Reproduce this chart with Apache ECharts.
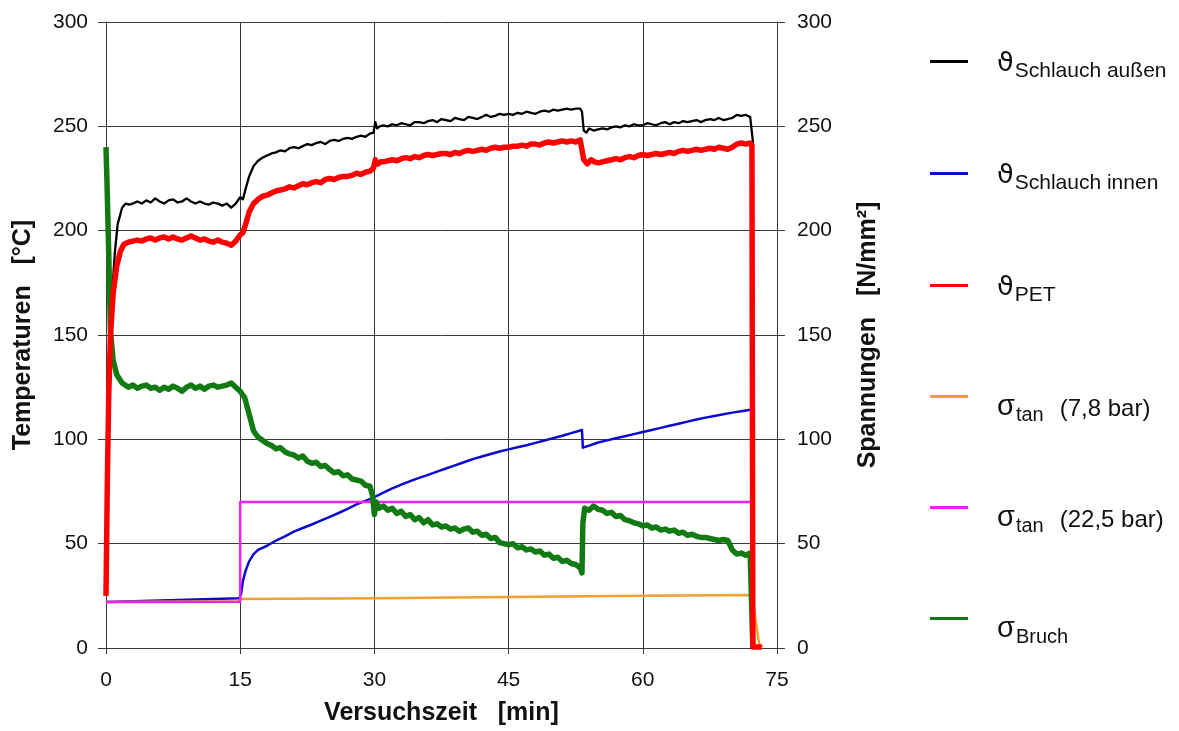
<!DOCTYPE html>
<html>
<head>
<meta charset="utf-8">
<script src="https://cdn.jsdelivr.net/npm/echarts@6/dist/echarts.min.js"></script>
<style>
html,body{margin:0;padding:0;background:#fff;}
#chart{width:1179px;height:731px;}
</style>
</head>
<body>
<div id="chart"></div>
<script>
// ---- Data: [time in min, value] ----
const schlauchAussen = [[0,25],[0.3,110],[0.6,165],[1,190],[1.3,203],[1.8,211],[2.2,213],[2.6,212.5],[3,213],[3.5,214],[4,213],[4.5,214.5],[5,213.5],[5.5,215.5],[6,214],[6.5,213],[7,214.5],[7.5,215],[8,213.5],[8.5,214],[9,215.5],[9.5,214],[10,213],[10.5,214],[11,213],[11.5,212.5],[12,213.5],[12.5,213],[13,212],[13.5,213],[14,211],[14.5,213],[15,216],[15.3,215],[15.6,220],[16,226],[16.5,231],[17,233.5],[17.5,235],[18,236],[18.5,237],[19,237.5],[19.5,238.5],[20,238],[20.5,239.5],[21,240],[21.5,239.5],[22,240.5],[22.5,241.5],[23,241],[23.5,242],[24,242.5],[24.5,241.5],[25,243],[25.5,243.5],[26,243],[26.5,244],[27,244.5],[27.5,244],[28,245],[28.5,245.5],[29,245],[29.5,246.5],[29.9,247],[30.1,252],[30.3,249],[30.6,250],[31,250.5],[31.5,250],[32,251],[32.5,250.5],[33,251.5],[33.5,251],[34,250.5],[34.5,252],[35,252],[35.5,251.5],[36,252.5],[36.5,253],[37,252],[37.5,253.5],[38,253],[38.5,252.5],[39,254],[39.5,253.5],[40,253],[40.5,254.5],[41,254],[41.5,253.5],[42,254.5],[42.5,255.5],[43,254.5],[43.5,255],[44,256],[44.5,255.5],[45,256],[45.5,255.5],[46,256.5],[46.5,256],[47,257],[47.5,256.5],[48,256],[48.5,257],[49,257.5],[49.5,257],[50,258],[50.5,257.5],[51,258],[51.5,258.5],[52,258],[52.5,258.5],[53,258.5],[53.2,257],[53.4,248],[53.7,247],[54,249],[54.5,248],[55,248.5],[55.5,249],[56,248.5],[56.5,249.5],[57,250],[57.5,249.5],[58,250.5],[58.5,250],[59,251],[59.5,250.5],[60,250.5],[60.5,251.5],[61,251],[61.5,250.5],[62,251.5],[62.5,252],[63,251],[63.5,252],[64,251.5],[64.5,252.5],[65,252],[65.5,252.5],[66,253],[66.5,252],[67,253],[67.5,253.5],[68,253],[68.5,254],[69,253],[69.5,253.5],[70,254],[70.5,255.5],[71,255],[71.5,255.5],[72,254.5],[72.2,254],[72.3,243],[72.35,0]];

const schlauchInnen = [[0,22],[5,22.6],[10,23.2],[14.9,23.8],[15.1,26],[15.3,32],[15.6,37],[16,41.5],[16.5,45],[17,47],[18,49],[19,51.5],[20,53.5],[21,55.8],[22,57.5],[23,59.2],[24,61],[25,62.8],[26,64.7],[27,66.7],[28,68.8],[29,70.5],[30,72.3],[31,74.5],[32,76.5],[33,78.3],[34,80],[35,81.5],[36,83],[37,84.5],[38,86],[39,87.5],[40,89],[41,90.5],[42,91.8],[43,93],[44,94.2],[45,95.2],[46,96.2],[47,97.2],[48,98.3],[49,99.4],[50,100.6],[51,101.7],[52,103],[53.2,104.5],[53.3,96],[54,97],[55,98.5],[56,99.5],[57,100.5],[58,101.5],[59,102.5],[60,103.5],[61,104.5],[62,105.5],[63,106.5],[64,107.5],[65,108.5],[66,109.5],[67,110.4],[68,111.2],[69,112],[70,112.8],[71,113.5],[72.2,114.3],[72.3,0]];

const pet = [[0,25],[0.15,80],[0.3,120],[0.5,150],[0.8,170],[1.2,183],[1.6,190],[2,193.5],[2.5,194.5],[3,195],[3.5,195.5],[4,195],[4.5,196],[5,196.5],[5.5,195.5],[6,196.5],[6.5,197],[7,196],[7.5,197],[8,196],[8.5,195.5],[9,196.5],[9.5,197.5],[10,196.5],[10.5,195.5],[11,196],[11.5,195],[12,194.5],[12.5,195.5],[13,194.5],[13.5,194],[14,193],[14.5,195],[15,198],[15.3,199],[15.6,203],[16,209],[16.5,213],[17,215],[17.5,216.5],[18,217],[18.5,218],[19,219],[19.5,219.5],[20,220],[20.5,221],[21,220.5],[21.5,221.5],[22,222.5],[22.5,222],[23,223],[23.5,223.5],[24,223],[24.5,224.5],[25,225],[25.5,224.5],[26,225.5],[26.5,226],[27,226],[27.5,226.5],[28,227.5],[28.5,227],[29,228],[29.5,228.5],[29.9,230],[30.1,234],[30.4,232],[30.7,233],[31,233],[31.5,233.5],[32,234],[32.5,233.5],[33,234.5],[33.5,235],[34,234.5],[34.5,235.5],[35,235],[35.5,236],[36,236.5],[36.5,236],[37,236.5],[37.5,237],[38,237],[38.5,236.5],[39,237.5],[39.5,237],[40,238],[40.5,238.5],[41,238],[41.5,238.5],[42,239],[42.5,238.5],[43,239.5],[43.5,240],[44,239.5],[44.5,240],[45,240],[45.5,240.5],[46,240.5],[46.5,241],[47,240.5],[47.5,241.5],[48,241.5],[48.5,241],[49,242],[49.5,242.5],[50,242],[50.5,242.5],[51,243],[51.5,242.5],[52,243],[52.5,242.5],[53,243.5],[53.2,244],[53.4,234],[53.8,232],[54.2,234],[54.6,233],[55,232.5],[55.5,233],[56,233.5],[56.5,234],[57,234.5],[57.5,234],[58,235],[58.5,235.5],[59,235],[59.5,236],[60,236.5],[60.5,236],[61,236.5],[61.5,237],[62,236.5],[62.5,237],[63,237.5],[63.5,237],[64,238],[64.5,238.5],[65,238],[65.5,238.5],[66,239],[66.5,238.5],[67,239],[67.5,239.5],[68,239],[68.5,240],[69,239.5],[69.5,239],[70,240],[70.5,241.5],[71,242],[71.5,241.5],[72,242],[72.2,241],[72.3,0.5],[73.3,0.5]];

const sigmaTan78 = [[0,22],[14.9,22.4],[15,23.5],[30,23.8],[45,24.4],[60,25],[72.2,25.4],[73,2],[73.4,0.5]];

const sigmaTan225 = [[0,22],[15,22.2],[15,70],[72.2,70],[72.3,0]];

const sigmaBruch = [[0,240],[0.1,225],[0.3,190],[0.5,152],[0.8,138],[1.2,131],[1.8,127],[2.5,125],[3,126],[3.5,124.5],[4,125.5],[4.5,126],[5,124.5],[5.5,125],[6,123.5],[6.5,125],[7,124],[7.5,125.5],[8,124.5],[8.5,123],[9,125],[9.5,126],[10,124.5],[10.5,125.5],[11,124],[11.5,125.5],[12,126],[12.5,125],[13,125.5],[13.5,126],[14,127],[14.5,125],[15,123],[15.5,120],[16,112],[16.5,104],[17,101],[17.5,99.5],[18,98],[18.5,97],[19,95.5],[19.5,96],[20,94],[20.5,93],[21,92.5],[21.5,91],[22,92],[22.5,89.5],[23,88.5],[23.5,89],[24,87],[24.5,87.5],[25,85.5],[25.5,84],[26,84.5],[26.5,82.5],[27,83],[27.5,81],[28,80.5],[28.5,80],[29,78],[29.5,77.5],[29.8,73],[30,64],[30.2,70],[30.5,67],[31,68],[31.5,66],[32,67],[32.5,64.5],[33,65.5],[33.5,63],[34,64],[34.5,61.5],[35,62.5],[35.5,60],[36,61.5],[36.5,59],[37,59.5],[37.5,58],[38,58.5],[38.5,57],[39,57.5],[39.5,56],[40,57],[40.5,57.5],[41,55.5],[41.5,56],[42,54],[42.5,54.5],[43,52.5],[43.5,53],[44,50.5],[44.5,50],[45,49.5],[45.5,50],[46,48],[46.5,48.5],[47,47],[47.5,47.5],[48,46],[48.5,46.5],[49,44.5],[49.5,45],[50,43],[50.5,43.5],[51,41.5],[51.5,42],[52,40.5],[52.5,40],[53,38.5],[53.2,36],[53.3,60],[53.5,67],[54,66],[54.5,68],[55,66.5],[55.5,66],[56,64.5],[56.5,65],[57,63],[57.5,63.5],[58,61.5],[58.5,61],[59,60],[59.5,59.5],[60,58.5],[60.5,59],[61,57.5],[61.5,58],[62,56.5],[62.5,57],[63,56],[63.5,56.5],[64,55],[64.5,55.5],[65,54],[65.5,54.5],[66,53.5],[66.5,53],[67,53],[67.5,52.5],[68,52],[68.5,51.5],[69,52],[69.5,51.5],[70,47],[70.5,45],[71,45.5],[71.5,44.5],[72,45.5],[72.2,45.5],[72.3,0]];

const seriesNames = ['ϑ Schlauch außen','ϑ Schlauch innen','ϑ PET','σ tan (7,8 bar)','σ tan (22,5 bar)','σ Bruch'];
const axisNames = {x:'Versuchszeit   [min]', yLeft:'Temperaturen   [°C]', yRight:'Spannungen   [N/mm²]'};

// ---- Chart ----
const FONT = "'Liberation Sans', Arial, sans-serif";
const legendRich = {
  'ϑ Schlauch außen': '{th|ϑ}{ts|Schlauch außen}',
  'ϑ Schlauch innen': '{th|ϑ}{ts|Schlauch innen}',
  'ϑ PET': '{th|ϑ}{ts|PET}',
  'σ tan (7,8 bar)': '{sg|σ}{ss|tan}{sp|(7,8 bar)}',
  'σ tan (22,5 bar)': '{sg|σ}{ss|tan}{sp|(22,5 bar)}',
  'σ Bruch': '{sg|σ}{ss|Bruch}'
};
const richStyles = {
  th:{fontFamily:"'DejaVu Sans', sans-serif", fontSize:27, color:'#111', padding:[22,0,18,24]},
  ts:{fontFamily:FONT, fontSize:21, color:'#111', padding:[30,0,10,1]},
  sg:{fontFamily:FONT, fontSize:29, color:'#111', padding:[30,0,10,24]},
  ss:{fontFamily:FONT, fontSize:20, color:'#111', padding:[39,0,1,1]},
  sp:{fontFamily:FONT, fontSize:24, color:'#111', padding:[33,0,7,16]}
};
const legendTops = [50, 162, 274, 392, 503, 614];
const axisCol = '#3a3a3a';
const chart = echarts.init(document.getElementById('chart'), null, {renderer:'canvas'});

function mk(name, data, color, width, yIdx){
  return {name, type:'line', data, yAxisIndex:yIdx, showSymbol:false, symbol:'none',
    color, lineStyle:{color, width, join:'round'}, animation:false, emphasis:{disabled:true}};
}

const legends = seriesNames.map((n, i) => ({
  orient:'vertical', left:930, top:legendTops[i], padding:0,
  itemWidth:38, itemHeight:3, icon:'rect', selectedMode:false,
  data:[n], formatter:nm => legendRich[nm],
  textStyle:{fontFamily:FONT, color:'#111', rich:richStyles}
}));

chart.setOption({
  animation:false,
  backgroundColor:'#fff',
  grid:{left:106, right:402, top:22, bottom:79, containLabel:false},
  xAxis:{type:'value', min:0, max:75, interval:15,
    name:axisNames.x, nameLocation:'middle', nameGap:53,
    nameTextStyle:{fontFamily:FONT, fontSize:25, fontWeight:'bold', color:'#111'},
    axisLine:{show:true, onZero:false, lineStyle:{color:axisCol, width:1}},
    axisTick:{show:true, length:6, lineStyle:{color:axisCol}},
    axisLabel:{fontFamily:FONT, fontSize:21, color:'#111', margin:22},
    splitLine:{show:true, lineStyle:{color:axisCol, width:1}}},
  yAxis:[
    {type:'value', min:0, max:300, interval:50, position:'left',
     name:axisNames.yLeft, nameLocation:'middle', nameRotate:90, nameGap:70,
     nameTextStyle:{fontFamily:FONT, fontSize:25, fontWeight:'bold', color:'#111'},
     axisLine:{show:true, lineStyle:{color:axisCol, width:1}},
     axisTick:{show:true, length:8, lineStyle:{color:axisCol}},
     axisLabel:{fontFamily:FONT, fontSize:21, color:'#111', margin:18},
     splitLine:{show:true, lineStyle:{color:axisCol, width:1}}},
    {type:'value', min:0, max:300, interval:50, position:'right',
     name:axisNames.yRight, nameLocation:'middle', nameRotate:90, nameGap:79,
     nameTextStyle:{fontFamily:FONT, fontSize:25, fontWeight:'bold', color:'#111'},
     axisLine:{show:true, lineStyle:{color:axisCol, width:1}},
     axisTick:{show:true, length:8, lineStyle:{color:axisCol}},
     axisLabel:{fontFamily:FONT, fontSize:21, color:'#111', margin:20},
     splitLine:{show:false}}
  ],
  legend:legends,
  series:[
    mk(seriesNames[0], schlauchAussen, '#000000', 2.3, 0),
    mk(seriesNames[1], schlauchInnen, '#0a0ad2', 2.5, 0),
    mk(seriesNames[3], sigmaTan78, '#f2a02e', 2.5, 1),
    mk(seriesNames[4], sigmaTan225, '#f020f0', 2.5, 1),
    mk(seriesNames[5], sigmaBruch, '#127a12', 5.5, 1),
    mk(seriesNames[2], pet, '#ff0000', 5.5, 0)
  ]
});
</script>
</body>
</html>
